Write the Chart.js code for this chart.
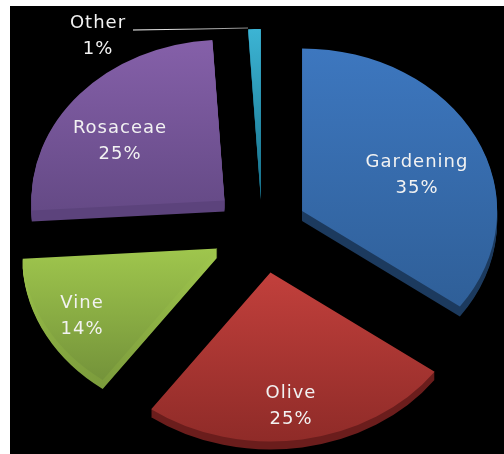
<!DOCTYPE html>
<html>
<head>
<meta charset="utf-8">
<style>html,body{margin:0;padding:0;background:#fff}#w{position:absolute;left:0;top:0;width:504px;height:454px}</style>
<script src="https://cdn.jsdelivr.net/npm/chart.js@4"></script>
</head>
<body>
<div id="w"><canvas id="c" width="504" height="454"></canvas></div>
<script>
const categories = ['Gardening', 'Olive', 'Vine', 'Rosaceae', 'Other'];
const shares = [35, 25, 14, 25, 1];
const tilt = 1.2;
const explode = [45, 54, 51, 50, 36];
const reach = [0.99, 1.03, 0.99, 0.98, 1.03];
const depth = [10, 8, 9, 11, 2];
const topColors = ['#3d77bf', '#c2403c', '#9fc64d', '#8560a9', '#3cb4d4'];
const bottomColors = ['#2f5f98', '#8f2b28', '#74933a', '#654a86', '#16708a'];
const sideTopColors = ['#1c3a5e', '#6b1d1c', '#9fc64d', '#5c437c', '#1a6f88'];
const sideBottomColors = ['#1c3a5e', '#6b1d1c', '#7c9c3c', '#5c437c', '#1a6f88'];
const labelAnchors = [[417, 175], [291, 406], [82, 316], [120, 141], [98, 36]];
const leader = [[133, 30], [200, 29], [248, 28]];
const panel = {left: 10, top: 6, color: '#000'};

const ctxMain = document.getElementById('c').getContext('2d');

function sliceGradient(ctx, el, top, bottom) {
  let min = 0, max = 0;
  for (let k = 0; k <= 60; k++) {
    const a = el.startAngle + (el.endAngle - el.startAngle) * k / 60;
    const s = Math.sin(a) * el.outerRadius;
    min = Math.min(min, s); max = Math.max(max, s);
  }
  const g = ctx.createLinearGradient(0, el.y + min, 0, el.y + max);
  g.addColorStop(0, top);
  g.addColorStop(1, bottom);
  return g;
}

function paintArc(ctx, el, color) {
  const view = Object.create(el);
  view.options = Object.assign(Object.create(el.options), {backgroundColor: color, borderWidth: 0});
  Chart.ArcElement.prototype.draw.call(view, ctx);
}

const tiltedPie = {
  id: 'tiltedPie',
  beforeDraw(chart) {
    const {ctx, width, height} = chart;
    ctx.save();
    ctx.fillStyle = panel.color;
    ctx.fillRect(panel.left, panel.top, width - panel.left, height - panel.top);
    ctx.restore();
  },
  beforeDatasetDraw(chart, args) {
    const ctx = chart.ctx;
    chart.getDatasetMeta(args.index).data.forEach((el, i) => {
      const mid = (el.startAngle + el.endAngle) / 2;
      const ex = Math.cos(mid) * explode[i];
      const ey = Math.sin(mid) * explode[i] / tilt;
      const place = (lift) => {
        ctx.translate(el.x + ex, el.y + ey + lift);
        ctx.scale(reach[i], reach[i] / tilt);
        ctx.translate(-el.x, -el.y);
      };
      for (let d = depth[i]; d >= 1; d--) {
        ctx.save(); place(d);
        paintArc(ctx, el, sliceGradient(ctx, el, sideTopColors[i], sideBottomColors[i]));
        ctx.restore();
      }
      ctx.save(); place(0);
      paintArc(ctx, el, sliceGradient(ctx, el, topColors[i], bottomColors[i]));
      ctx.restore();
    });
    return false;
  },
  afterDraw(chart) {
    const ctx = chart.ctx;
    ctx.save();
    const g = ctx.createLinearGradient(leader[0][0], 0, leader[2][0], 0);
    g.addColorStop(0, '#ffffff');
    g.addColorStop(1, '#8a8a8a');
    ctx.strokeStyle = g;
    ctx.lineWidth = 1.2;
    ctx.beginPath();
    leader.forEach((p, i) => i ? ctx.lineTo(p[0], p[1]) : ctx.moveTo(p[0], p[1]));
    ctx.stroke();
    ctx.fillStyle = '#f2f2f2';
    ctx.font = '18px "DejaVu Sans"';
    ctx.letterSpacing = '1px';
    ctx.textAlign = 'center';
    ctx.textBaseline = 'middle';
    categories.forEach((name, i) => {
      const [x, y] = labelAnchors[i];
      ctx.fillText(name, x, y - 13);
      ctx.fillText(shares[i] + '%', x, y + 13);
    });
    ctx.restore();
  }
};

new Chart(ctxMain, {
  type: 'pie',
  data: {
    labels: categories,
    datasets: [{data: shares, backgroundColor: topColors, borderWidth: 0}]
  },
  options: {
    responsive: false,
    animation: false,
    radius: 197,
    layout: {padding: {left: 20, top: 2}},
    plugins: {legend: {display: false}, tooltip: {enabled: false}, title: {display: false}}
  },
  plugins: [tiltedPie]
});
</script>
</body>
</html>
